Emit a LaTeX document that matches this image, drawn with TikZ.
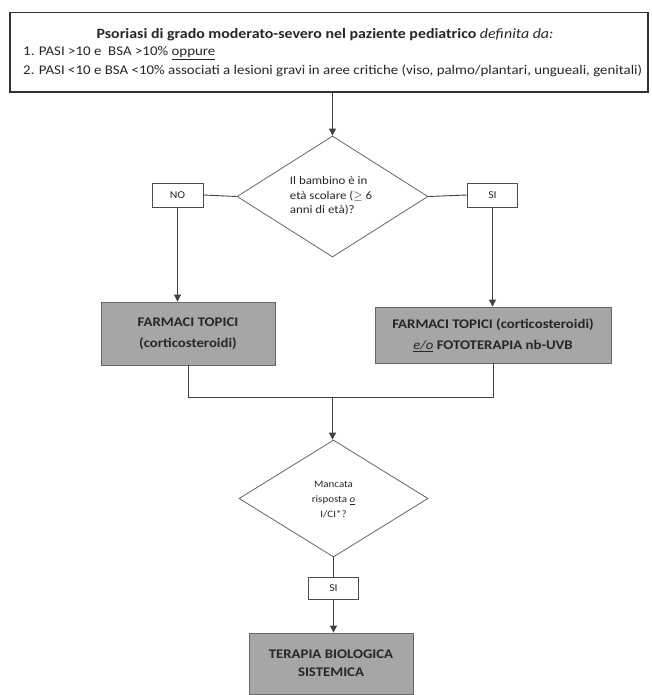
\documentclass[tikz,border=0pt]{standalone}
\usepackage{fontspec}
\setmainfont{Carlito}[FakeStretch=1.12]
\usetikzlibrary{shapes.geometric,arrows.meta}
\begin{document}
\begin{tikzpicture}[x=1pt,y=-1pt,
  line/.style={draw=black!75,line width=0.9pt},
  arr/.style={line,-{Triangle[width=7pt,length=7pt]}},
  gbox/.style={rectangle,draw=black!60,line width=0.9pt,fill=black!35,font=\fontsize{13.2}{21}\selectfont\bfseries,text=black!85,align=center,inner sep=0},
  lbl/.style={rectangle,draw=black!70,line width=0.8pt,fill=white,font=\fontsize{10.5}{12}\selectfont,text=black!85,inner sep=0},
  dec/.style={diamond,draw=black!60,line width=0.8pt,inner sep=0,text=black!85},
  txt/.style={inner sep=0,text=black!85},
]
\useasboundingbox (0,0) rectangle (651,695);
% top box
\node[rectangle,draw=black!80,line width=1.4pt,minimum width=638pt,minimum height=79.5pt,inner sep=0] (top) at (329,52.25) {};
\node[txt,font=\fontsize{14.2}{16}\selectfont\bfseries] (title) at (325,35) {Psoriasi di grado moderato-severo nel paziente pediatrico {\mdseries\itshape definita da:}};
\node[txt,anchor=west,font=\fontsize{13.3}{15}\selectfont] (l1) at (23,53) {1. PASI >10 e \ BSA >10\% \underline{oppure}};
\node[txt,anchor=west,font=\fontsize{13.3}{15}\selectfont] (l2) at (23,70.5) {2. PASI <10 e BSA <10\% associati a lesioni gravi in aree critiche (viso, palmo/plantari, ungueali, genitali)};
% decision 1
\node[dec,minimum width=191pt,minimum height=121pt] (d1) at (332.5,196.5) {};
\draw[arr] (top.south -| d1.north) -- (d1.north);
\node[txt,font=\fontsize{11.5}{14.5}\selectfont,align=left] (d1t) at (331,196) {Il bambino è in\\età scolare ($\geq$ 6\\anni di età)?};
\node[lbl,minimum width=51pt,minimum height=24pt] (no) at (177.5,195) {NO};
\node[lbl,minimum width=50pt,minimum height=24pt] (si1) at (492.5,195) {SI};
\draw[line] (d1.west) -- (no.east);
\draw[line] (d1.east) -- (si1.west);
% gray boxes
\node[gbox,minimum width=174pt,minimum height=63pt] (lb) at (188,333.5) {FARMACI TOPICI\\(corticosteroidi)};
\node[gbox,minimum width=236pt,minimum height=56pt] (rb) at (493,335) {FARMACI TOPICI (corticosteroidi)\\{\mdseries\underline{\itshape e/o}} FOTOTERAPIA nb-UVB};
\draw[arr] (no.south) -- (no.south |- lb.north);
\draw[arr] (si1.south) -- (si1.south |- rb.north);
% merge
\coordinate (m) at (332.5,397);
\draw[line] (lb.south) -- (lb.south |- m) -- (rb.south |- m) -- (rb.south);
% decision 2
\node[dec,minimum width=189pt,minimum height=117pt] (d2) at (333.5,498.5) {};
\node[txt,font=\fontsize{9.8}{15}\selectfont,align=center] (d2t) at (333.5,500) {Mancata\\risposta \underline{\itshape o}\\I/CI*?};
\draw[arr] (m) -- (m |- d2.north);
\node[lbl,minimum width=50pt,minimum height=22pt] (si2) at (333.5,588) {SI};
\draw[line] (d2.south) -- (si2.north);
\node[gbox,minimum width=164pt,minimum height=61pt,font=\fontsize{13.2}{18}\selectfont\bfseries] (bb) at (331,663.5) {TERAPIA BIOLOGICA\\SISTEMICA};
\draw[arr] (si2.south) -- (si2.south |- bb.north);
\end{tikzpicture}
\end{document}
